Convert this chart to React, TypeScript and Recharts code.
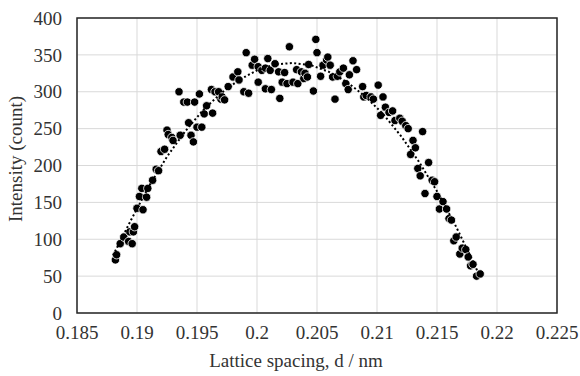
import { ScatterChart, Scatter, XAxis, YAxis, CartesianGrid, ReferenceArea } from "recharts"

// measured points (d in nm, intensity in counts)
const dX = [
  0.1882, 0.1883, 0.1886, 0.1889, 0.1893, 0.1894, 0.1896, 0.1897, 0.1898, 0.19, 0.1902, 0.1904, 0.1905, 0.1908,
  0.1909, 0.1913, 0.1916, 0.1918, 0.192, 0.1923, 0.1925, 0.1926, 0.1929, 0.193, 0.1935, 0.1936, 0.1939, 0.1942,
  0.1943, 0.1945, 0.1947, 0.1948, 0.195, 0.1952, 0.1954, 0.1956, 0.1958, 0.1962, 0.1963, 0.1965, 0.1968, 0.197,
  0.1971, 0.1973, 0.1976, 0.198, 0.1984, 0.1985, 0.1989, 0.1991, 0.1993, 0.1996, 0.1998, 0.2001, 0.2001, 0.2004,
  0.2007, 0.2007, 0.2009, 0.2011, 0.2012, 0.2015, 0.2018, 0.2019, 0.2021, 0.2023, 0.2025, 0.2027, 0.203, 0.2033,
  0.2034, 0.2037, 0.2039, 0.204, 0.2042, 0.2043, 0.2047, 0.2049, 0.205, 0.2053, 0.2055, 0.2058, 0.2059, 0.2061,
  0.2063, 0.2065, 0.2067, 0.2069, 0.2072, 0.2074, 0.2076, 0.2077, 0.208, 0.2083, 0.2088, 0.2089, 0.2091, 0.2095,
  0.2097, 0.2101, 0.2103, 0.2105, 0.2107, 0.211, 0.2113, 0.2115, 0.2119, 0.2121, 0.2124, 0.2126, 0.2128, 0.213,
  0.2132, 0.2134, 0.2136, 0.2138, 0.214, 0.2143, 0.2146, 0.2148, 0.215, 0.2152, 0.2155, 0.2158, 0.216, 0.2162,
  0.2164, 0.2166, 0.2169, 0.2171, 0.2174, 0.2176, 0.2178, 0.218, 0.2183, 0.2186,
]
const dY = [
  72, 79, 94, 103, 97, 110, 94, 110, 117, 142, 158, 169, 140, 157,
  169, 180, 195, 193, 219, 222, 248, 242, 238, 234, 300, 241, 286, 286,
  258, 241, 232, 286, 252, 297, 252, 270, 281, 303, 271, 300, 300, 290,
  293, 289, 307, 320, 327, 316, 300, 353, 298, 336, 344, 334, 313, 329,
  332, 304, 345, 329, 303, 338, 327, 291, 313, 326, 311, 361, 313, 330,
  311, 327, 318, 325, 320, 337, 301, 371, 353, 321, 336, 343, 347, 336,
  320, 290, 321, 327, 332, 311, 303, 323, 342, 330, 307, 293, 295, 293,
  290, 309, 268, 293, 279, 272, 274, 261, 264, 260, 254, 250, 215, 234,
  224, 196, 186, 246, 162, 204, 180, 178, 158, 141, 151, 141, 128, 126,
  98, 103, 80, 88, 86, 76, 64, 66, 50, 53,
]

// dotted trend curve
const tX = [0.188, 0.1895, 0.191, 0.1925, 0.194, 0.1955, 0.197, 0.1985, 0.2, 0.2015, 0.203, 0.2045, 0.206, 0.2075, 0.209, 0.2105, 0.212, 0.2135, 0.215, 0.2165, 0.218, 0.2185]
const tY = [78, 126, 172, 212, 246, 275, 298, 316, 329, 337, 339, 336, 327, 313, 294, 270, 240, 205, 165, 120, 70, 52]

const xTicks = [0.185, 0.19, 0.195, 0.2, 0.205, 0.21, 0.215, 0.22, 0.225]
const yTicks = [0, 50, 100, 150, 200, 250, 300, 350, 400]

const points = dX.map((x, i) => ({ x, y: dY[i] }))
const trend = tX.map((x, i) => ({ x, y: tY[i] }))

const font = "'Liberation Serif', 'Times New Roman', serif"
const ink = "#333"
const tick = { fill: ink, fontSize: 19, fontFamily: font }

const Dot = (p: any) => <circle cx={p.cx} cy={p.cy} r={4.2} fill="#000" stroke="#fff" strokeWidth={0.8} />

export default function App() {
  return (
    <div style={{ width: 580, height: 376 }}>
      <style>{"body{margin:0}"}</style>
      <ScatterChart width={580} height={376} margin={{ top: 18, right: 23, bottom: 0, left: 0 }}>
        <CartesianGrid stroke="#d9d9d9" />
        <XAxis
          type="number"
          dataKey="x"
          domain={[0.185, 0.225]}
          ticks={xTicks}
          height={63}
          tick={tick}
          tickLine={false}
          tickSize={0}
          tickMargin={13}
          axisLine={false}
          label={{
            content: () => (
              <text x={296} y={367} textAnchor="middle" fill={ink} fontSize={19} fontFamily={font}>
                Lattice spacing, d / nm
              </text>
            ),
          }}
        />
        <YAxis
          type="number"
          dataKey="y"
          domain={[0, 400]}
          ticks={yTicks}
          width={77}
          tick={tick}
          tickLine={false}
          tickSize={0}
          tickMargin={15}
          axisLine={false}
          label={{
            content: () => (
              <text x={22} y={159} transform="rotate(-90, 22, 159)" textAnchor="middle" fill={ink} fontSize={19} fontFamily={font}>
                Intensity (count)
              </text>
            ),
          }}
        />
        <ReferenceArea x1={0.185} x2={0.225} y1={0} y2={400} fill="none" stroke="#262626" strokeWidth={1.5} />
        <Scatter data={points} shape={Dot} isAnimationActive={false} />
        <Scatter
          data={trend}
          line={{ stroke: "#000", strokeWidth: 2, strokeDasharray: "2 2.4" }}
          shape={() => <g />}
          isAnimationActive={false}
        />
      </ScatterChart>
    </div>
  )
}
